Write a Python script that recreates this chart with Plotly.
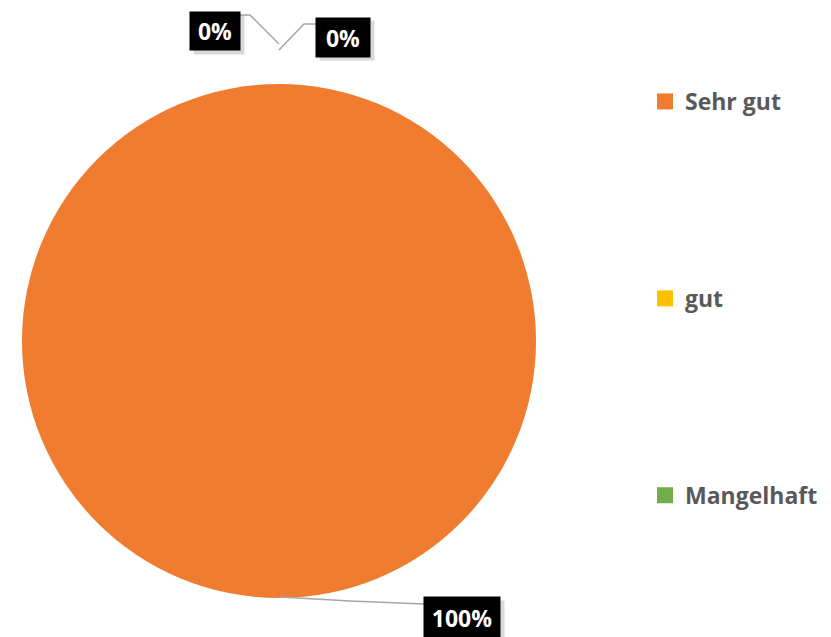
import plotly.graph_objects as go

categories = ["Sehr gut", "gut", "Mangelhaft"]
values = [100, 0, 0]
colors = ["#F07C30", "#FFC000", "#70AD47"]

W, H = 831, 637
total = sum(values)
pct = [f"{round(v / total * 100)}%" for v in values]


def px(x):
    return x / W


def py(y):
    return 1 - y / H


fig = go.Figure()
fig.add_trace(go.Pie(
    labels=categories, values=values, sort=False, direction="clockwise",
    marker=dict(colors=colors, line=dict(color="#FFFFFF", width=0)),
    textinfo="none", hoverinfo="label+percent", showlegend=False,
    domain=dict(x=[px(22), px(536)], y=[py(598), py(84)]),
))

for i, (c, col) in enumerate(zip(categories, colors)):
    fig.add_trace(go.Scatter(
        x=[None], y=[None], mode="markers", name=c, legendgroup=f"g{i}",
        marker=dict(symbol="square", size=16, color=col), showlegend=True,
    ))

# data label positions (label centre, box size)
label_pos = [((462, 617), (76, 41)), ((215, 31), (50, 38)), ((343, 37), (54, 39))]
for txt, ((cx, cy), (bw, bh)) in zip(pct, label_pos):
    # shadow
    fig.add_annotation(x=px(cx + 4), y=py(cy + 4), xref="paper", yref="paper",
                       xanchor="center", yanchor="middle",
                       text=" ", showarrow=False, width=bw, height=bh,
                       bgcolor="rgba(0,0,0,0.15)", borderpad=0)
    fig.add_annotation(x=px(cx), y=py(cy), xref="paper", yref="paper",
                       xanchor="center", yanchor="middle",
                       text=f"<b>{txt}</b>", showarrow=False, width=bw, height=bh,
                       bgcolor="#000000", borderpad=0,
                       font=dict(family="Open Sans", size=23, color="#FFFFFF"))

leaders = [
    [(280, 597), (350, 601), (424, 604)],
    [(240, 15), (250, 15), (279, 44)],
    [(279, 50), (304, 24), (316, 24)],
]
for pts in leaders:
    path = "M " + " L ".join(f"{px(x):.5f},{py(y):.5f}" for x, y in pts)
    fig.add_shape(type="path", path=path, xref="paper", yref="paper",
                  line=dict(color="#A6A6A6", width=1.5))

fig.update_layout(
    width=W, height=H, margin=dict(l=0, r=0, t=0, b=0),
    paper_bgcolor="#FFFFFF", plot_bgcolor="#FFFFFF",
    xaxis=dict(visible=False), yaxis=dict(visible=False),
    legend=dict(x=px(645), y=py(80), xanchor="left", yanchor="top",
                tracegroupgap=164,
                font=dict(family="Open Sans", size=23, color="#595959", weight="bold"),
                bgcolor="rgba(0,0,0,0)"),
)

fig.write_html("out.html", config={"displayModeBar": False},
               post_script="document.body.style.margin='0';")
